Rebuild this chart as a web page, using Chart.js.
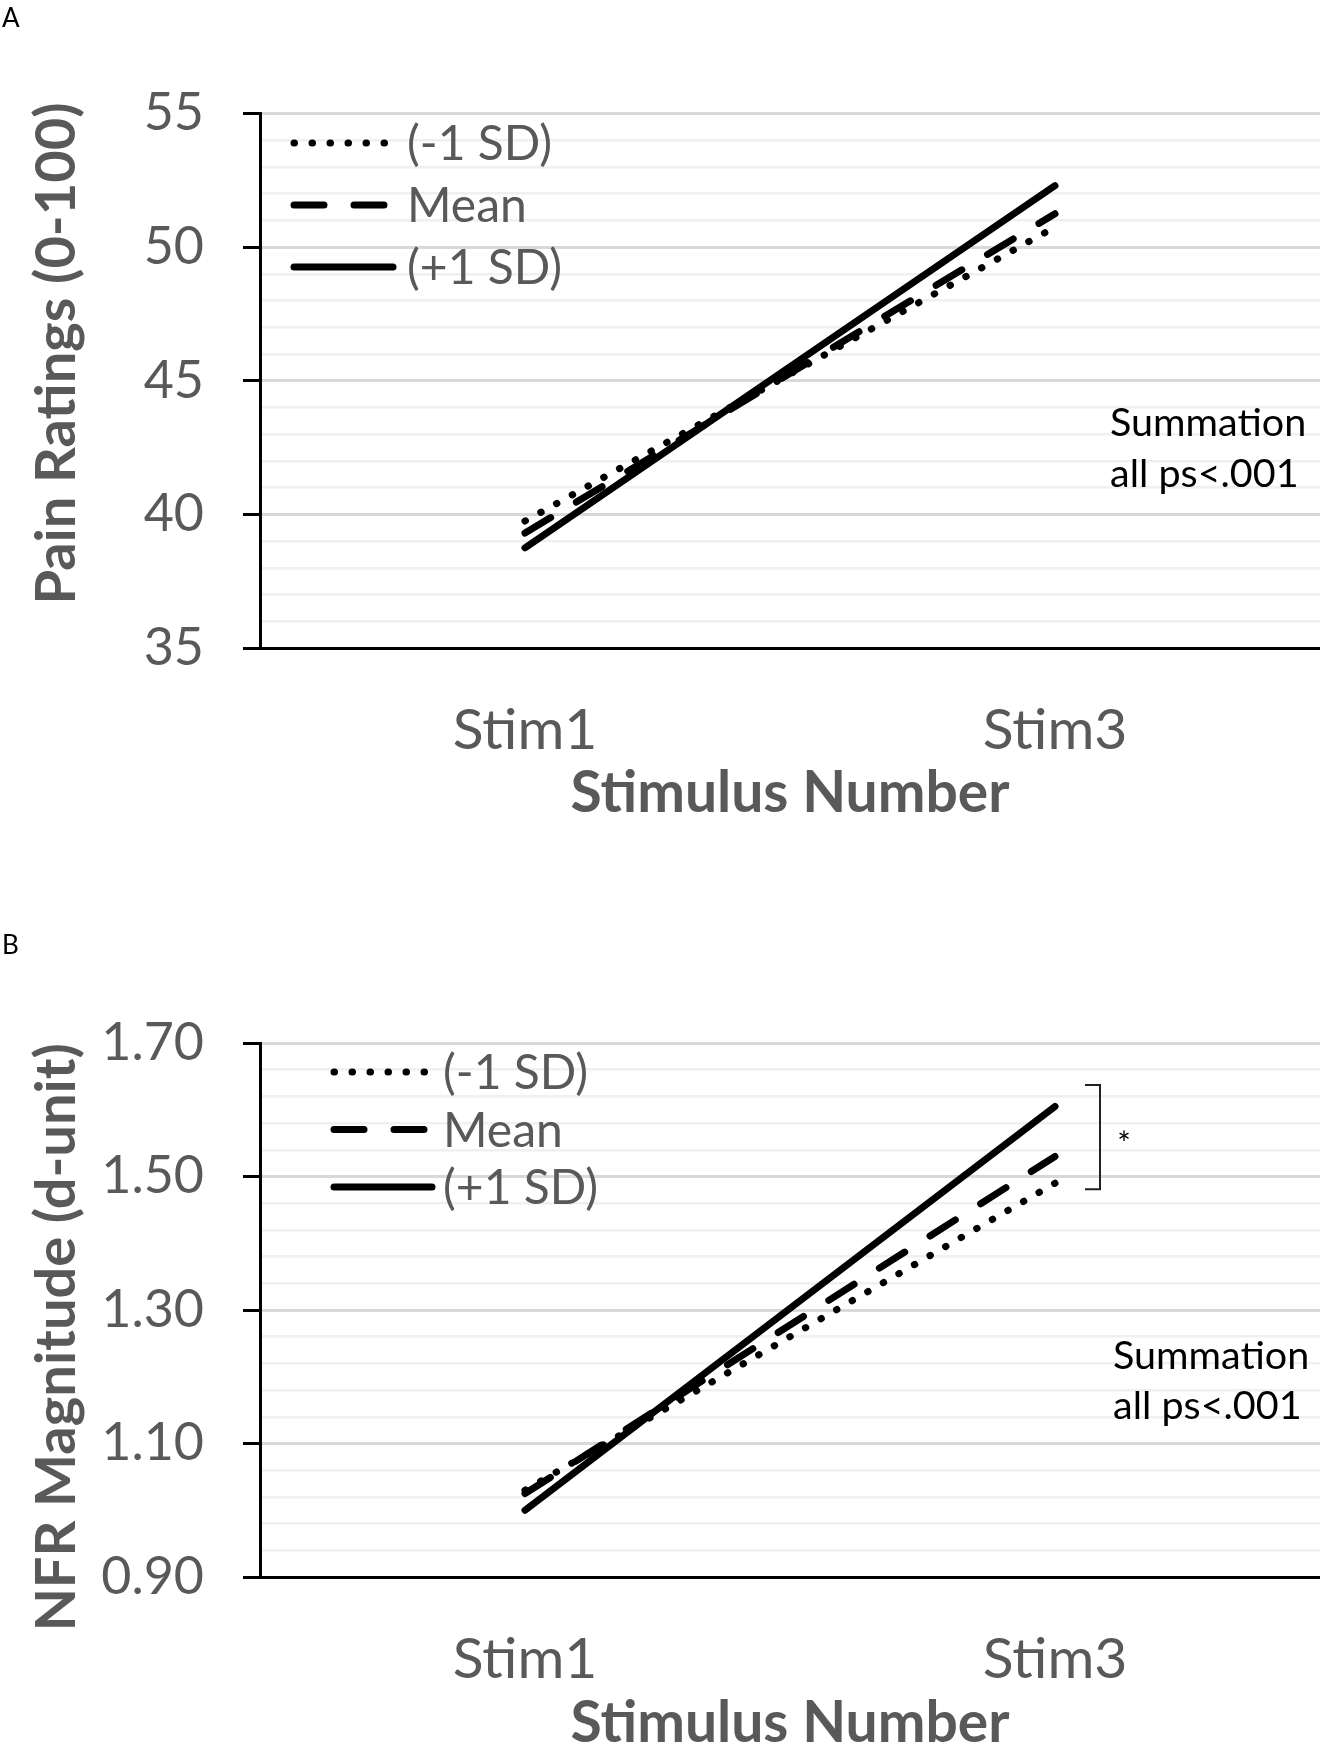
<!DOCTYPE html>
<html>
<head>
<meta charset="utf-8">
<script src="https://cdn.jsdelivr.net/npm/chart.js@4/dist/chart.umd.min.js"></script>
<style>
  html,body{margin:0;padding:0;background:#fff;overflow:hidden;}
  #page{position:relative;width:1320px;height:1745px;overflow:hidden;}
  canvas{position:absolute;left:0;}
  .panel{position:absolute;left:2px;font:26px Lato, sans-serif;color:#000;z-index:2;}
</style>
</head>
<body>
<div id="page">
  <div class="panel" style="top:1px">A</div>
  <canvas id="chartA" width="1320" height="870" style="top:0"></canvas>
  <div class="panel" style="top:928px">B</div>
  <canvas id="chartB" width="1320" height="900" style="top:870px"></canvas>
</div>
<script>
/* ---------- data ---------- */
const categories = ['Stim1', 'Stim3'];
const seriesNames = ['(-1 SD)', 'Mean', '(+1 SD)'];

const painLow  = [39.75, 50.75];
const painMean = [39.3, 51.25];
const painHigh = [38.75, 52.3];

const nfrLow  = [1.03, 1.49];
const nfrMean = [1.025, 1.53];
const nfrHigh = [1.0, 1.605];

const noteLines = ['Summation', 'all ps<.001'];
const starText = '*';

/* ---------- styles ---------- */
const GRAY = '#595959';
const dashStyles = [[0.5, 17.5], [30, 30], []];
Chart.defaults.font.family = 'Lato, sans-serif';

function makeDatasets(vals){
  return vals.map((v,i)=>({
    label: seriesNames[i], data: v,
    borderColor:'#000', borderWidth:7, borderDash:dashStyles[i],
    borderCapStyle:'round', pointRadius:0, fill:false, tension:0
  }));
}

/* legend drawn inside the plot area */
const inlineLegend = {
  id:'inlineLegend',
  afterDraw(chart, args, o){
    const {ctx, chartArea} = chart;
    ctx.save();
    ctx.font = '48px Lato, sans-serif'; ctx.fillStyle = GRAY; ctx.textBaseline = 'middle';
    chart.data.datasets.forEach((ds,i)=>{
      const x0 = chartArea.left + o.left, y = chartArea.top + o.top + i*o.rowH;
      ctx.beginPath();
      ctx.setLineDash(ds.borderDash); ctx.lineCap = 'round';
      ctx.lineWidth = ds.borderWidth; ctx.strokeStyle = ds.borderColor;
      ctx.moveTo(x0, y); ctx.lineTo(x0 + o.sampleW, y); ctx.stroke();
      ctx.setLineDash([]);
      ctx.fillText(ds.label, x0 + o.sampleW + o.gap, y + 2);
    });
    ctx.restore();
  }
};

/* text notes + optional bracket */
const notes = {
  id:'notes',
  afterDraw(chart, args, o){
    const {ctx} = chart, xs = chart.scales.x, ys = chart.scales.y;
    const x3 = xs.getPixelForValue(1);
    ctx.save();
    ctx.font = '39.5px Lato, sans-serif'; ctx.fillStyle = '#000'; ctx.textBaseline = 'middle';
    const y0 = ys.getPixelForValue(o.noteAt);
    noteLines.forEach((t,i)=>ctx.fillText(t, x3 + o.noteDx, y0 + i*o.noteStep));
    if (o.bracket){
      const [hi, lo] = o.bracket, bx = x3 + 45;
      const yt = ys.getPixelForValue(hi), yb = ys.getPixelForValue(lo);
      ctx.strokeStyle = '#222'; ctx.lineWidth = 2;
      ctx.beginPath();
      ctx.moveTo(bx - 15, yt); ctx.lineTo(bx, yt); ctx.lineTo(bx, yb); ctx.lineTo(bx - 15, yb);
      ctx.stroke();
      ctx.font = '32px Lato, sans-serif'; ctx.textAlign = 'center';
      ctx.fillText(starText, bx + 24, (yt + yb)/2 + 8);
    }
    ctx.restore();
  }
};

function build(id, vals, cfg){
  // major ticks are counted from the axis minimum
  const isMajor = v => { const k = (v - cfg.min)/cfg.major; return Math.abs(k - Math.round(k)) < 1e-6; };
  return new Chart(document.getElementById(id), {
    type:'line',
    data:{labels:categories, datasets:makeDatasets(vals)},
    plugins:[inlineLegend, notes],
    options:{
      responsive:false, animation:false, devicePixelRatio:1,
      layout:{padding:{top:cfg.padTop, left:0, right:0, bottom:0}},
      plugins:{legend:{display:false}, tooltip:{enabled:false},
        inlineLegend:cfg.legend, notes:cfg.notes},
      scales:{
        x:{
          offset:true,
          grid:{display:false, drawTicks:false},
          border:{display:true, color:'#000', width:3},
          ticks:{color:GRAY, font:{size:57}, padding:48},
          title:{display:true, text:'Stimulus Number', color:GRAY,
                 font:{size:57, weight:'bold'}, padding:{top:0, bottom:cfg.xTitlePad}},
          afterFit(s){ s.height = cfg.xHeight; }
        },
        y:{
          min:cfg.min, max:cfg.max,
          border:{display:true, color:'#000', width:3},
          grid:{
            color:c=>isMajor(c.tick.value)?'#d9d9d9':'#f0f0f0',
            lineWidth:c=>isMajor(c.tick.value)?3:2.5,
            tickColor:c=>isMajor(c.tick.value)?'#000':'rgba(0,0,0,0)',
            tickWidth:3, tickLength:17, drawTicks:true
          },
          ticks:{stepSize:cfg.step, autoSkip:false, color:GRAY, font:{size:52}, padding:39,
                 callback:v=>isMajor(v)?(+v).toFixed(cfg.dec):''},
          title:{display:true, text:cfg.yTitle, color:GRAY,
                 font:{size:56, weight:'bold'}, padding:{top:23, bottom:0}},
          afterFit(s){ s.width = 260; }
        }
      }
    }
  });
}

function draw(){
  build('chartA', [painLow, painMean, painHigh], {
    min:35, max:55, step:1, major:5, dec:0, yTitle:'    Pain Ratings (0-100)',
    padTop:113.5, xHeight:222, xTitlePad:42,
    legend:{left:34, top:29.5, rowH:62, sampleW:99, gap:14},
    notes:{noteAt:43.4, noteDx:55, noteStep:51}
  });
  build('chartB', [nfrLow, nfrMean, nfrHigh], {
    min:0.9, max:1.7, step:0.04, major:0.2, dec:2, yTitle:'NFR Magnitude (d-unit)    ',
    padTop:173, xHeight:193, xTitlePad:12,
    legend:{left:74, top:29, rowH:57.5, sampleW:98, gap:11},
    notes:{noteAt:1.231, noteDx:58, noteStep:50, bracket:[1.637, 1.481]}
  });
}

if (document.fonts && document.fonts.load) {
  Promise.all([document.fonts.load('52px Lato'), document.fonts.load('bold 56px Lato')])
    .then(draw, draw);
} else draw();
</script>
</body>
</html>
